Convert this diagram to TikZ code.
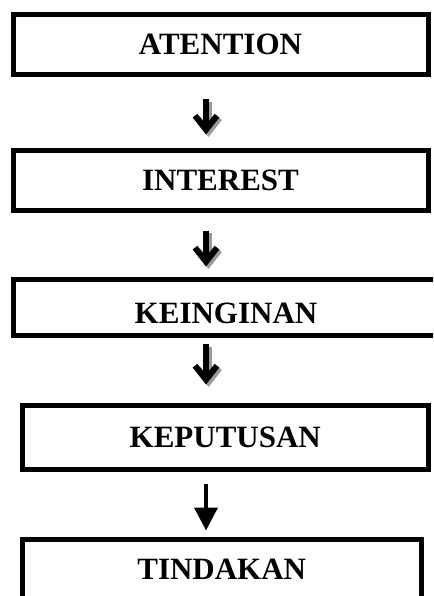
\documentclass[tikz,border=0pt]{standalone}
\usepackage{fontspec}
\setmainfont{Liberation Serif}
\usetikzlibrary{arrows.meta,calc}
\begin{document}
\begin{tikzpicture}[x=1pt,y=-1pt,
  box/.style={draw, line width=5pt, inner sep=0pt, font=\fontsize{31}{31}\selectfont\bfseries},
  chevarrow/.style={line width=6pt, -{Straight Barb[length=14pt,width=22pt]}},
  shadowarrow/.style={chevarrow, draw=black!40},
  solidarrow/.style={line width=4pt, -{Triangle[length=23pt,width=23pt]}}]
\clip (0,0) rectangle (433,596);
\fill[white] (0,0) rectangle (433,596);
\node[box, minimum width=415pt, minimum height=59.5pt] (b1) at (220.5,44.75) {ATENTION};
\node[box, minimum width=415pt, minimum height=60pt] (b2) at (220.5,180.5) {INTEREST\hspace{8pt}};
\node[box, minimum width=426pt, minimum height=56pt] (b3) at (226,307.5) {\rule{0pt}{32pt}KEINGINAN};
\node[box, minimum width=405.5pt, minimum height=64pt] (b4) at (225.25,437.5) {KEPUTUSAN};
\node[box, minimum width=398.5pt, minimum height=59pt] (b5) at (221.75,569) {TINDAKAN};
\coordinate (ax) at (206,0);
% arrow 1
\draw[shadowarrow, shorten <=22.5pt, shorten >=13.5pt] ($(b1.south -| ax)+(2.5,2.5)$) -- ($(b2.north -| ax)+(2.5,2.5)$);
\draw[chevarrow, shorten <=22.5pt, shorten >=13.5pt] (b1.south -| ax) -- (b2.north -| ax);
% arrow 2
\draw[shadowarrow, shorten <=17.8pt, shorten >=10.5pt] ($(b2.south -| ax)+(2.5,2.5)$) -- ($(b3.north -| ax)+(2.5,2.5)$);
\draw[chevarrow, shorten <=17.8pt, shorten >=10.5pt] (b2.south -| ax) -- (b3.north -| ax);
% arrow 3
\draw[shadowarrow, shorten <=6.2pt, shorten >=18.5pt] ($(b3.south -| ax)+(2.5,2.5)$) -- ($(b4.north -| ax)+(2.5,2.5)$);
\draw[chevarrow, shorten <=6.2pt, shorten >=18.5pt] (b3.south -| ax) -- (b4.north -| ax);
% arrow 4
\draw[solidarrow, shorten <=11.5pt, shorten >=6.5pt] (b4.south -| ax) -- (b5.north -| ax);
\end{tikzpicture}
\end{document}
